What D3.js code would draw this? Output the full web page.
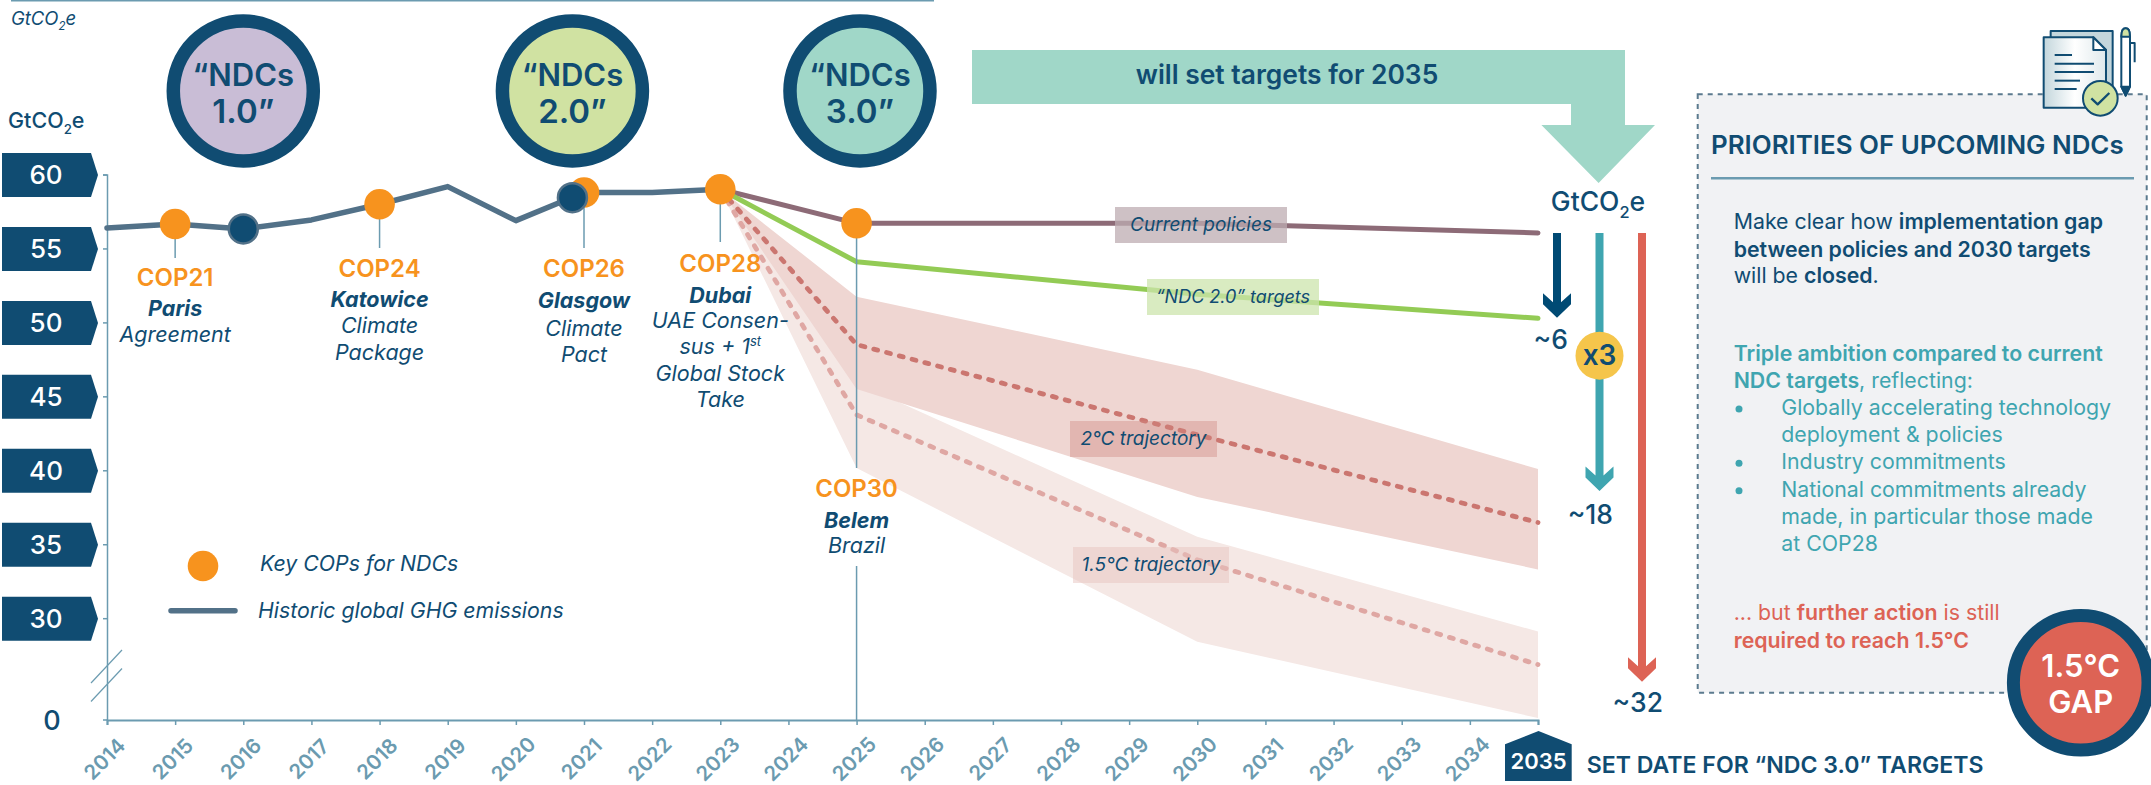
<!DOCTYPE html>
<meta charset="utf-8">
<style>
  body { margin: 0; background: #fff; }
  svg { display: block; font-family: Inter, "Noto Sans", sans-serif; }
</style>
<body>
<script src="https://cdn.jsdelivr.net/npm/d3@7"></script>
<script>

// Emissions in GtCO2e
var histYears = [2014, 2015, 2016, 2017, 2018, 2019, 2020, 2021, 2022, 2023];
var historic = [56.39, 56.65, 56.32, 56.93, 57.99, 59.18, 56.88, 58.78, 58.78, 59.0];

var projYears = [2023, 2025, 2030, 2035];
var currentPolicies = [59.0, 56.7, 56.7, 56.05];
var ndc2Targets = [59.0, 54.1, 51.9, 50.28];
var twoMid = [59.0, 48.5, 42.4, 36.47];
var twoHigh = [59.0, 51.74, 46.8, 40.08];
var twoLow = [59.0, 45.5, 38.2, 33.3];
var onefiveMid = [59.0, 43.75, 33.95, 26.86];
var onefiveHigh = [59.0, 45.9, 35.5, 29.1];
var onefiveLow = [59.0, 40.15, 28.4, 23.25];

var yTicks = [60, 55, 50, 45, 40, 35, 30];
var yBase = 23.15; // where the broken axis reaches "0"
var xTicks = d3.range(2014, 2036);

var copYears = [2015, 2018, 2021, 2023, 2025];
var copValues = [56.65, 57.99, 58.78, 59.0, 56.7];
var copNames = ["COP21", "COP24", "COP26", "COP28", "COP30"];
var ndcSubmitYears = [2016, 2020.83];
var ndcSubmitValues = [56.32, 58.43];

// Set scales
var x = d3.scaleLinear().domain([2014, 2035]).range([107, 1538]);
var y = d3.scaleLinear().domain([60, yBase]).range([174.5, 719.5]);

var navy = "#104c72", axisCol = "#6b9bb0", orange = "#f7931e", teal = "#3fa5b0", red = "#dd6355";

var svg = d3.select("body").append("svg").attr("width", 2151).attr("height", 785);

// Writes one line of text made of [string, weight, style, shift, size] pieces
function rich(parent, px, py, pieces, o) {
  o = o || {};
  var t = parent.append("text").attr("x", px).attr("y", py)
    .attr("font-size", o.size || 21.3).attr("fill", o.fill || navy)
    .attr("text-anchor", o.anchor || "start");
  var shift = 0;
  pieces.forEach(function(p) {
    var s = t.append("tspan").text(p[0]).attr("font-weight", p[1] || (o.weight || 400));
    if (p[2] || o.italic) s.attr("font-style", "italic");
    var want = p[3] || 0;
    if (want != shift) { s.attr("dy", want - shift); shift = want; }
    if (p[4]) s.attr("font-size", p[4]);
  });
  return t;
}

function co2(parent, px, py, size, weight, italic, anchor) {
  rich(parent, px, py, [["GtCO"], ["2", null, null, size * 0.28, size * 0.62], ["e"]],
    {size: size, weight: weight, italic: italic, anchor: anchor});
}

// Top rule and axis titles
svg.append("rect").attr("x", 11).attr("y", 0).attr("width", 923).attr("height", 1.5).attr("fill", axisCol);
co2(svg, 11, 25, 18.5, 400, true);
co2(svg, 8, 128, 21.5, 500);

// Y axis, its labels sit on pentagon tags
var yAxis = svg.append("g").attr("transform", "translate(107,0)")
  .call(d3.axisLeft(y).tickValues(yTicks.concat([yBase])).tickSize(4)
    .tickFormat(function(d) { return d == yBase ? "0" : d; }));
yAxis.select(".domain").attr("stroke", axisCol).attr("stroke-width", 1.5);
yAxis.selectAll(".tick line").attr("stroke", axisCol).attr("stroke-width", 1.5);
yAxis.selectAll(".tick").filter(function(d) { return d != yBase; })
  .insert("path", "text")
  .attr("d", "M-105,-22H-16L-9,0L-16,22H-105Z")
  .attr("fill", navy);
yAxis.selectAll(".tick text")
  .attr("font-family", "Inter").attr("font-weight", 500)
  .attr("font-size", function(d) { return d == yBase ? 27 : 26; })
  .attr("text-anchor", "middle")
  .attr("x", function(d) { return d == yBase ? -55 : -61; })
  .attr("dy", "0.36em")
  .attr("fill", function(d) { return d == yBase ? navy : "#fff"; });
yAxis.selectAll(".tick").filter(function(d) { return d == yBase; }).select("line").remove();

// Axis break marks
[0, 18.5].forEach(function(d) {
  svg.append("line").attr("x1", 91).attr("x2", 122)
    .attr("y1", 683 + d).attr("y2", 650 + d)
    .attr("stroke", axisCol).attr("stroke-width", 1.2);
});

// X axis
var xAxis = svg.append("g").attr("transform", "translate(0,720)")
  .call(d3.axisBottom(x).tickValues(xTicks).tickSize(5).tickFormat(d3.format("d")));
xAxis.select(".domain").attr("stroke", axisCol).attr("stroke-width", 2);
xAxis.selectAll(".tick line").attr("stroke", axisCol).attr("stroke-width", 1.5);
xAxis.selectAll(".tick text")
  .attr("font-family", "Inter").attr("font-size", 20.5).attr("font-weight", 600).attr("fill", axisCol)
  .attr("text-anchor", "middle").attr("y", 0).attr("dy", "0.35em")
  .attr("transform", "translate(-3,39) rotate(-45)")
  .filter(function(d) { return d == 2035; }).remove();

// Bands
var band = d3.area()
  .x(function(d) { return x(d[0]); })
  .y0(function(d) { return y(d[1]); })
  .y1(function(d) { return y(d[2]); });
svg.append("path").datum(d3.zip(projYears, onefiveLow, onefiveHigh)).attr("d", band).attr("fill", "#f5e8e5");
svg.append("path").datum(d3.zip(projYears, twoLow, twoHigh)).attr("d", band).attr("fill", "#efd6d2");

// Lines
var line = d3.line()
  .x(function(d) { return x(d[0]); })
  .y(function(d) { return y(d[1]); });

function drawLine(xs, ys, col, w, dash) {
  var p = svg.append("path").datum(d3.zip(xs, ys)).attr("d", line)
    .attr("fill", "none").attr("stroke", col).attr("stroke-width", w)
    .attr("stroke-linecap", "round").attr("stroke-linejoin", "round");
  if (dash) p.attr("stroke-dasharray", dash);
}

drawLine(projYears, onefiveMid, "#dfa7a3", 4.8, "4 9.2");
drawLine(projYears, twoMid, "#cb7670", 4.8, "4 9.2");
drawLine(projYears, currentPolicies, "#8d6b77", 5);
drawLine(projYears, ndc2Targets, "#93cb55", 5);
drawLine(histYears, historic, "#527188", 5.5);

// Connector lines under the COP dots
var connectorEnds = [258, 248, 248, 242, 468];
svg.selectAll(".connector").data(copYears).enter().append("line")
  .attr("class", "connector")
  .attr("x1", function(d) { return x(d); }).attr("x2", function(d) { return x(d); })
  .attr("y1", function(d, i) { return y(copValues[i]); })
  .attr("y2", function(d, i) { return connectorEnds[i]; })
  .attr("stroke", axisCol).attr("stroke-width", 1.5);
svg.append("line").attr("x1", x(2025)).attr("x2", x(2025)).attr("y1", 566).attr("y2", 720)
  .attr("stroke", axisCol).attr("stroke-width", 1.5);

// Dots
svg.selectAll(".cop").data(copYears).enter().append("circle")
  .attr("class", "cop")
  .attr("cx", function(d) { return x(d); })
  .attr("cy", function(d, i) { return y(copValues[i]); })
  .attr("r", 15.3).attr("fill", orange);
svg.selectAll(".submit").data(ndcSubmitYears).enter().append("circle")
  .attr("class", "submit")
  .attr("cx", function(d) { return x(d); })
  .attr("cy", function(d, i) { return y(ndcSubmitValues[i]); })
  .attr("r", 14.5).attr("fill", navy).attr("stroke", "#527188").attr("stroke-width", 2.5);

// COP captions: baselines and text
var copCaptions = [
  {i: 0, base: [285.7, 315.7, 341.7], lines: ["Paris", "Agreement"]},
  {i: 1, base: [277.3, 306.7, 332.7, 360], lines: ["Katowice", "Climate", "Package"]},
  {i: 2, base: [277.3, 308, 335.7, 361.7], lines: ["Glasgow", "Climate", "Pact"]},
  {i: 3, base: [272.3, 302.7, 328.3, 354.3, 380.7, 406.7], lines: ["Dubai", "UAE Consen-", "sus + 1|st", "Global Stock", "Take"]},
  {i: 4, base: [497.3, 527.7, 553.3], lines: ["Belem", "Brazil"]}
];
copCaptions.forEach(function(c) {
  var cx = x(copYears[c.i]);
  rich(svg, cx, c.base[0], [[copNames[c.i]]], {size: 24, weight: 600, fill: orange, anchor: "middle"});
  c.lines.forEach(function(l, j) {
    var parts = l.split("|");
    var pieces = [[parts[0], j == 0 ? 700 : 400, true]];
    if (parts[1]) pieces.push([parts[1], 400, true, -8, 13]);
    rich(svg, cx, c.base[j + 1], pieces, {size: 21.5, anchor: "middle"});
  });
});

// "NDCs" circles
var ndcYears = [2016, 2020.83, 2025.05];
var ndcLabels = ["1.0", "2.0", "3.0"];
var ndcFills = ["#c9bdd6", "#d0e2a2", "#a0d7c8"];
ndcYears.forEach(function(d, i) {
  var g = svg.append("g").attr("transform", "translate(" + x(d) + ",91)");
  g.append("circle").attr("r", 70).attr("fill", ndcFills[i]).attr("stroke", navy).attr("stroke-width", 13.5);
  rich(g, 0, -5, [["“NDCs"]], {size: 31, weight: 600, anchor: "middle"});
  rich(g, 0, 32, [[ndcLabels[i] + "”"]], {size: 33, weight: 600, anchor: "middle"});
});

// Big teal arrow
svg.append("path")
  .attr("d", "M972,50H1625V125H1655L1598.6,183L1541.4,125H1571V104H972Z")
  .attr("fill", "#a0d7c8");
rich(svg, 1287, 84, [["will set targets for 2035"]], {size: 26.4, weight: 600, anchor: "middle"});

// Gap arrows on the right
co2(svg, 1598, 210.7, 26.5, 500, false, "middle");
function gapArrow(px, fromV, toV, col) {
  var y0 = y(fromV), tip = y(toV), barb = tip - 24.5;
  svg.append("path")
    .attr("d", "M" + (px - 4) + "," + y0 + "V" + (barb + 9) + "L" + (px - 14) + "," + barb +
      "V" + (barb + 11) + "L" + px + "," + tip + "L" + (px + 14) + "," + (barb + 11) +
      "V" + barb + "L" + (px + 4) + "," + (barb + 9) + "V" + y0 + "Z")
    .attr("fill", col);
}
gapArrow(1557, 56.05, 50.32, "#004a74");
gapArrow(1599.5, 56.05, 38.6, teal);
gapArrow(1642, 56.05, 25.7, red);
rich(svg, 1568, 349, [["~6"]], {size: 26.5, weight: 500, anchor: "end"});
rich(svg, 1613, 524, [["~18"]], {size: 26.5, weight: 500, anchor: "end"});
rich(svg, 1663, 711.7, [["~32"]], {size: 26.5, weight: 500, anchor: "end"});
svg.append("circle").attr("cx", 1599.5).attr("cy", 355.7).attr("r", 24).attr("fill", "#f5c54b");
rich(svg, 1599.5, 365, [["x3"]], {size: 28, weight: 600, anchor: "middle"});

// Line labels
var lineLabels = ["Current policies", "“NDC 2.0” targets", "2°C trajectory", "1.5°C trajectory"];
var lineLabelBox = [[1115, 207, 172, 36], [1147, 279, 172, 36], [1070, 421, 147, 36], [1073, 547, 156, 36]];
var lineLabelFill = ["rgba(190,172,178,0.75)", "rgba(204,228,172,0.75)", "rgba(208,135,128,0.4)", "rgba(232,196,192,0.5)"];
var lineLabelSize = [19, 18, 19, 19];
lineLabels.forEach(function(l, i) {
  var b = lineLabelBox[i];
  svg.append("rect").attr("x", b[0]).attr("y", b[1]).attr("width", b[2]).attr("height", b[3]).attr("fill", lineLabelFill[i]);
  rich(svg, b[0] + b[2] / 2, b[1] + 24, [[l]], {size: lineLabelSize[i], italic: true, anchor: "middle"});
});

// Legend
svg.append("circle").attr("cx", 203).attr("cy", 566).attr("r", 15.3).attr("fill", orange);
rich(svg, 260, 571, [["Key COPs for NDCs"]], {size: 21.3, italic: true});
svg.append("line").attr("x1", 171).attr("x2", 235).attr("y1", 610.7).attr("y2", 610.7)
  .attr("stroke", "#527188").attr("stroke-width", 5.5).attr("stroke-linecap", "round");
rich(svg, 258, 618, [["Historic global GHG emissions"]], {size: 21.3, italic: true});

// 2035 marker
svg.append("path").attr("d", "M1505,744.3L1538.5,731L1571.7,744.3V781H1505Z").attr("fill", navy);
rich(svg, 1538.5, 769, [["2035"]], {size: 22, weight: 600, fill: "#fff", anchor: "middle"});
rich(svg, 1586.7, 772.7, [["SET DATE FOR “NDC 3.0” TARGETS"]], {size: 23.1, weight: 600});

// Priorities panel
svg.append("rect").attr("x", 1697.7).attr("y", 94.3).attr("width", 449).attr("height", 598.4)
  .attr("fill", "#f1f2f4").attr("stroke", "#5b7a8e").attr("stroke-width", 2).attr("stroke-dasharray", "5 5");
rich(svg, 1711, 154, [["PRIORITIES OF UPCOMING NDCs"]], {size: 25.9, weight: 600});
svg.append("rect").attr("x", 1711).attr("y", 177).attr("width", 423).attr("height", 2.5).attr("fill", axisCol);

var panelLines = [
  [229, navy, [["Make clear how "], ["implementation gap", 600]]],
  [256.7, navy, [["between policies and 2030 targets", 600]]],
  [283.3, navy, [["will be "], ["closed", 600], ["."]]],
  [361, teal, [["Triple ambition compared to current", 600]]],
  [387.7, teal, [["NDC targets", 600], [", reflecting:"]]],
  [620, red, [["... but "], ["further action", 600], [" is still"]]],
  [648.3, red, [["required to reach 1.5°C", 600]]]
];
panelLines.forEach(function(l) { rich(svg, 1733.7, l[0], l[2], {fill: l[1]}); });

var bulletBase = [415, 441.7, 469.3, 496.7, 524, 550.7];
var bulletText = ["Globally accelerating technology", "deployment & policies", "Industry commitments", "National commitments already", "made, in particular those made", "at COP28"];
var bulletDots = [0, 2, 3];
bulletText.forEach(function(t, i) { rich(svg, 1781.3, bulletBase[i], [[t]], {fill: teal}); });
bulletDots.forEach(function(i) {
  svg.append("circle").attr("cx", 1739).attr("cy", bulletBase[i] - 6).attr("r", 3.5).attr("fill", teal);
});

// 1.5C gap badge
svg.append("circle").attr("cx", 2080.7).attr("cy", 682.7).attr("r", 67.3)
  .attr("fill", red).attr("stroke", navy).attr("stroke-width", 13);
rich(svg, 2080.7, 677.3, [["1.5°C"]], {size: 31, weight: 600, fill: "#fff", anchor: "middle"});
rich(svg, 2080.7, 713.3, [["GAP"]], {size: 31, weight: 600, fill: "#fff", anchor: "middle"});

// Document icon, drawn in 3x units
var defs = svg.append("defs");
var grad = defs.append("linearGradient").attr("id", "page");
grad.append("stop").attr("offset", "0%").attr("stop-color", "#c3d6dc");
grad.append("stop").attr("offset", "50%").attr("stop-color", "#ffffff");
grad.append("stop").attr("offset", "100%").attr("stop-color", "#dfe9ec");
var icon = svg.append("g").attr("transform", "translate(2020,15) scale(0.3333)")
  .attr("stroke", navy).attr("stroke-width", 6).attr("stroke-linejoin", "round");
icon.append("rect").attr("x", 92).attr("y", 48).attr("width", 186).attr("height", 210).attr("fill", "#c3d6dc");
icon.append("path").attr("d", "M71,67H220L258,105V278H71Z").attr("fill", "url(#page)");
icon.append("path").attr("d", "M220,67V105H258Z").attr("fill", "#fff");
[[104, 156, 120], [104, 222, 146], [104, 222, 171], [104, 180, 197], [104, 170, 222]].forEach(function(d) {
  icon.append("line").attr("x1", d[0]).attr("x2", d[1]).attr("y1", d[2]).attr("y2", d[2]);
});
icon.append("circle").attr("cx", 241).attr("cy", 250).attr("r", 52).attr("fill", "#d0e2a2");
icon.append("path").attr("d", "M214,250L233,268L268,234").attr("fill", "none").attr("stroke-width", 7);
icon.append("path").attr("d", "M304,65V215L317,242L330,215V65Q330,40 317,40Q304,40 304,65Z").attr("fill", "#fff");
icon.append("path").attr("d", "M304,65Q304,40 317,40Q330,40 330,65Z").attr("fill", "#d0e2a2");
icon.append("path").attr("d", "M304,215L317,242L330,215Z").attr("fill", navy);
icon.append("path").attr("d", "M332,84H344V142").attr("fill", "none");

</script>
</body>
